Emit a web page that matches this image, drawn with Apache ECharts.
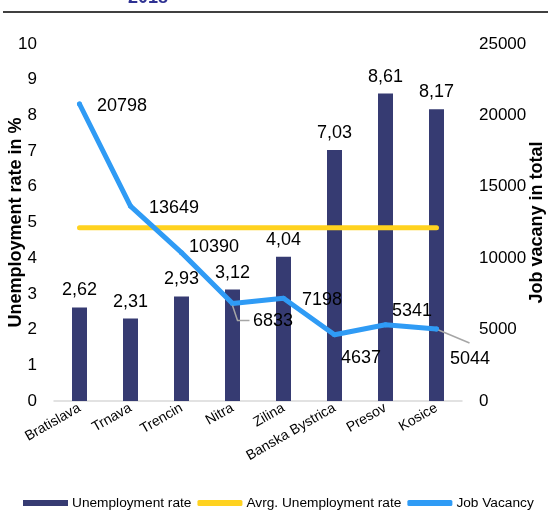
<!DOCTYPE html>
<html>
<head>
<meta charset="utf-8">
<script src="https://cdn.jsdelivr.net/npm/echarts@6/dist/echarts.min.js"></script>
<style>html,body{margin:0;padding:0;background:#fff;}#c{width:548px;height:510px;}</style>
</head>
<body>
<div id="c"></div>
<script>
const regions = ['Bratislava','Trnava','Trencin','Nitra','Zilina','Banska Bystrica','Presov','Kosice'];
const unemploymentRate = [2.62, 2.31, 2.93, 3.12, 4.04, 7.03, 8.61, 8.17];
const avgUnemploymentRate = [4.85, 4.85, 4.85, 4.85, 4.85, 4.85, 4.85, 4.85];
const jobVacancy = [20798, 13649, 10390, 6833, 7198, 4637, 5341, 5044];
const leftTicks = {min: 0, max: 10, interval: 1};
const rightTicks = {min: 0, max: 25000, interval: 5000};

const FONT = 'Arial, "Liberation Sans", sans-serif';
// label placement per job-vacancy point: [distance, dy]
const vacLabelPlace = [[15,2],[16,2],[5,-6],[18,18],[16,2],[4,23],[4,-14],[11,30]];

const chart = echarts.init(document.getElementById('c'), null, {renderer: 'canvas'});

const option = {
  animation: false,
  textStyle: {fontFamily: FONT},
  grid: {left: 54, right: 86, top: 44, bottom: 109, containLabel: false, outerBoundsMode: 'none'},
  legend: {
    bottom: -5,
    left: 18,
    itemWidth: 45,
    itemHeight: 6,
    itemGap: 6,
    textStyle: {fontSize: 13.7, color: '#000', fontFamily: FONT, padding: [0, 0, 0, -1]},
    data: [
      {name: 'Unemployment rate', icon: 'rect'},
      {name: 'Avrg. Unemployment rate', icon: 'roundRect'},
      {name: 'Job Vacancy', icon: 'roundRect'}
    ]
  },
  xAxis: {
    type: 'category',
    data: regions,
    axisTick: {show: false},
    axisLine: {lineStyle: {color: '#d9d9d9', width: 1.5}},
    axisLabel: {rotate: 30, fontSize: 14, color: '#000', margin: 6, interval: 0, fontFamily: FONT}
  },
  yAxis: [
    {
      type: 'value', min: leftTicks.min, max: leftTicks.max, interval: leftTicks.interval,
      name: 'Unemployment rate in %', nameLocation: 'middle', nameGap: 29, nameMoveOverlap: false,
      nameTextStyle: {fontSize: 18, fontWeight: 'bold', color: '#000', fontFamily: FONT},
      splitLine: {show: false}, axisLine: {show: false}, axisTick: {show: false},
      axisLabel: {fontSize: 17, color: '#000', margin: 17, fontFamily: FONT}
    },
    {
      type: 'value', min: rightTicks.min, max: rightTicks.max, interval: rightTicks.interval,
      name: 'Job vacany in total', nameLocation: 'middle', nameGap: 66, nameRotate: 90, nameMoveOverlap: false,
      nameTextStyle: {fontSize: 18, fontWeight: 'bold', color: '#000', fontFamily: FONT},
      splitLine: {show: false}, axisLine: {show: false}, axisTick: {show: false},
      axisLabel: {fontSize: 17, color: '#000', margin: 17, fontFamily: FONT, formatter: v => String(v)}
    }
  ],
  series: [
    {
      name: 'Unemployment rate',
      type: 'bar',
      data: unemploymentRate,
      barWidth: 15,
      itemStyle: {color: '#363b72'},
      label: {
        show: true, position: 'top', distance: 8, fontSize: 18, color: '#000', fontFamily: FONT,
        formatter: p => String(p.value).replace('.', ',')
      },
      z: 1
    },
    {
      name: 'Avrg. Unemployment rate',
      type: 'line',
      data: avgUnemploymentRate,
      symbol: 'none',
      lineStyle: {color: '#ffd21f', width: 5, cap: 'round'},
      itemStyle: {color: '#ffd21f'},
      z: 3
    },
    {
      name: 'Job Vacancy',
      type: 'line',
      yAxisIndex: 1,
      data: jobVacancy.map((v, i) => ({
        value: v,
        label: {position: 'right', distance: vacLabelPlace[i][0], offset: [0, vacLabelPlace[i][1]]}
      })),
      symbol: 'circle',
      symbolSize: 5,
      lineStyle: {color: '#2f9bf5', width: 5, cap: 'round', join: 'round'},
      itemStyle: {color: '#2f9bf5'},
      label: {show: true, fontSize: 18, color: '#000', fontFamily: FONT, formatter: p => String(p.value)},
      z: 4
    }
  ]
};
chart.setOption(option);

// leader lines for moved labels (Nitra, Kosice), anchored at data points
function pt(i) { return chart.convertToPixel({seriesIndex: 2}, [i, jobVacancy[i]]); }
const pN = pt(3), pK = pt(7);
chart.setOption({
  graphic: [
    {type: 'text', style: {text: '2018', x: 148, y: 7, align: 'center', verticalAlign: 'bottom', fill: '#2e3192', font: 'bold 18px ' + FONT}},
    {type: 'line', shape: {x1: 3, y1: 12, x2: 548, y2: 12}, style: {stroke: '#000', lineWidth: 1.5}},
    {type: 'polyline', z: 5, shape: {points: [[pN[0], pN[1] + 2], [pN[0] + 5, pN[1] + 17], [pN[0] + 17, pN[1] + 17]]}, style: {stroke: '#a6a6a6', lineWidth: 1.5, fill: null}},
    {type: 'line', z: 5, shape: {x1: pK[0] + 2, y1: pK[1] + 1, x2: pK[0] + 33, y2: pK[1] + 14}, style: {stroke: '#a6a6a6', lineWidth: 1.5}}
  ]
});
</script>
</body>
</html>
